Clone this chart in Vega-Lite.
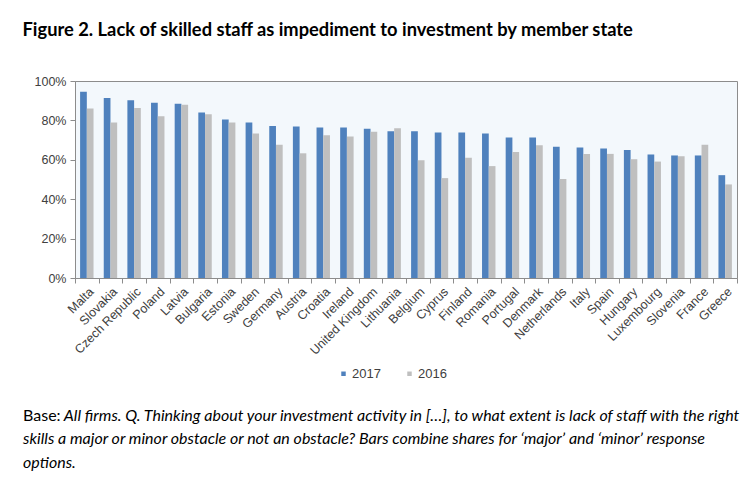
{
  "$schema": "https://vega.github.io/schema/vega-lite/v6.json",
  "background": "white",
  "padding": {"left": 22, "top": 21, "right": 5, "bottom": 5},
  "title": {
    "text": "Figure 2. Lack of skilled staff as impediment to investment by member state",
    "anchor": "start",
    "frame": "bounds",
    "offset": 34,
    "font": "Lato",
    "fontSize": 18.3,
    "fontWeight": "bold",
    "color": "black"
  },
  "vconcat": [
    {
      "width": 662,
      "height": 197,
      "title": {
        "text": "Base:",
        "subtitle": [
          "\u200b\u00a0\u00a0\u00a0\u00a0\u00a0\u00a0\u00a0\u00a0\u00a0\u00a0\u00a0All firms. Q. Thinking about your investment activity in [\u2026], to what extent is lack of staff with the right",
          "skills a major or minor obstacle or not an obstacle? Bars combine shares for \u2018major\u2019 and \u2018minor\u2019 response",
          "options."
        ],
        "orient": "bottom",
        "anchor": "start",
        "frame": "bounds",
        "dx": -11,
        "offset": 51,
        "font": "Lato",
        "fontSize": 16,
        "fontWeight": "normal",
        "color": "black",
        "subtitleFont": "Lato",
        "subtitleFontSize": 16,
        "subtitleFontStyle": "italic",
        "subtitleColor": "black",
        "subtitleLineHeight": 23.5,
        "subtitlePadding": -16
      },
      "data": {
        "values": [
          {"country": "Malta", "year": "2017", "share": 0.946},
          {"country": "Malta", "year": "2016", "share": 0.860},
          {"country": "Slovakia", "year": "2017", "share": 0.914},
          {"country": "Slovakia", "year": "2016", "share": 0.789},
          {"country": "Czech Republic", "year": "2017", "share": 0.902},
          {"country": "Czech Republic", "year": "2016", "share": 0.863},
          {"country": "Poland", "year": "2017", "share": 0.890},
          {"country": "Poland", "year": "2016", "share": 0.821},
          {"country": "Latvia", "year": "2017", "share": 0.885},
          {"country": "Latvia", "year": "2016", "share": 0.880},
          {"country": "Bulgaria", "year": "2017", "share": 0.840},
          {"country": "Bulgaria", "year": "2016", "share": 0.831},
          {"country": "Estonia", "year": "2017", "share": 0.804},
          {"country": "Estonia", "year": "2016", "share": 0.789},
          {"country": "Sweden", "year": "2017", "share": 0.789},
          {"country": "Sweden", "year": "2016", "share": 0.733},
          {"country": "Germany", "year": "2017", "share": 0.772},
          {"country": "Germany", "year": "2016", "share": 0.677},
          {"country": "Austria", "year": "2017", "share": 0.769},
          {"country": "Austria", "year": "2016", "share": 0.633},
          {"country": "Croatia", "year": "2017", "share": 0.764},
          {"country": "Croatia", "year": "2016", "share": 0.725},
          {"country": "Ireland", "year": "2017", "share": 0.764},
          {"country": "Ireland", "year": "2016", "share": 0.718},
          {"country": "United Kingdom", "year": "2017", "share": 0.757},
          {"country": "United Kingdom", "year": "2016", "share": 0.742},
          {"country": "Lithuania", "year": "2017", "share": 0.745},
          {"country": "Lithuania", "year": "2016", "share": 0.760},
          {"country": "Belgium", "year": "2017", "share": 0.745},
          {"country": "Belgium", "year": "2016", "share": 0.598},
          {"country": "Cyprus", "year": "2017", "share": 0.738},
          {"country": "Cyprus", "year": "2016", "share": 0.507},
          {"country": "Finland", "year": "2017", "share": 0.738},
          {"country": "Finland", "year": "2016", "share": 0.610},
          {"country": "Romania", "year": "2017", "share": 0.733},
          {"country": "Romania", "year": "2016", "share": 0.568},
          {"country": "Portugal", "year": "2017", "share": 0.713},
          {"country": "Portugal", "year": "2016", "share": 0.639},
          {"country": "Denmark", "year": "2017", "share": 0.713},
          {"country": "Denmark", "year": "2016", "share": 0.674},
          {"country": "Netherlands", "year": "2017", "share": 0.666},
          {"country": "Netherlands", "year": "2016", "share": 0.503},
          {"country": "Italy", "year": "2017", "share": 0.662},
          {"country": "Italy", "year": "2016", "share": 0.630},
          {"country": "Spain", "year": "2017", "share": 0.657},
          {"country": "Spain", "year": "2016", "share": 0.630},
          {"country": "Hungary", "year": "2017", "share": 0.650},
          {"country": "Hungary", "year": "2016", "share": 0.603},
          {"country": "Luxembourg", "year": "2017", "share": 0.627},
          {"country": "Luxembourg", "year": "2016", "share": 0.591},
          {"country": "Slovenia", "year": "2017", "share": 0.622},
          {"country": "Slovenia", "year": "2016", "share": 0.618},
          {"country": "France", "year": "2017", "share": 0.622},
          {"country": "France", "year": "2016", "share": 0.677},
          {"country": "Greece", "year": "2017", "share": 0.522},
          {"country": "Greece", "year": "2016", "share": 0.475}
        ]
      },
      "mark": {"type": "bar"},
      "encoding": {
        "x": {
          "field": "country",
          "type": "nominal",
          "sort": null,
          "scale": {"paddingInner": 0, "paddingOuter": 0},
          "axis": {
            "title": null,
            "labelAngle": -45,
            "labelAlign": "right",
            "labelBaseline": "top",
            "tickBand": "extent",
            "tickSize": 5,
            "labelPadding": 2
          }
        },
        "xOffset": {
          "field": "year",
          "type": "nominal",
          "sort": ["2017", "2016"],
          "scale": {"paddingInner": 0, "paddingOuter": 0.76}
        },
        "y": {
          "field": "share",
          "type": "quantitative",
          "scale": {"domain": [0, 1], "nice": false},
          "axis": {
            "title": null,
            "values": [0, 0.2, 0.4, 0.6, 0.8, 1],
            "format": ".0%",
            "tickSize": 5,
            "labelPadding": 4
          }
        },
        "color": {
          "field": "year",
          "type": "nominal",
          "scale": {"domain": ["2017", "2016"], "range": ["#4f81bd", "#bfbfbf"]},
          "legend": {
            "title": null,
            "orient": "none",
            "legendX": 262,
            "legendY": 286,
            "direction": "horizontal",
            "symbolType": "square",
            "symbolSize": 20,
            "symbolStrokeWidth": 0,
            "labelFont": "Liberation Sans",
            "labelFontSize": 13,
            "labelColor": "#404040",
            "labelOffset": 2,
            "columnPadding": 22
          }
        }
      }
    }
  ],
  "config": {
    "view": {"fill": "#f3f8fc", "stroke": "#8c8c8c", "strokeWidth": 1},
    "axis": {
      "grid": false,
      "labelFont": "Liberation Sans",
      "labelFontSize": 12.5,
      "labelColor": "#404040",
      "domainColor": "#8c8c8c",
      "tickColor": "#8c8c8c"
    },
    "concat": {"spacing": 0}
  }
}
